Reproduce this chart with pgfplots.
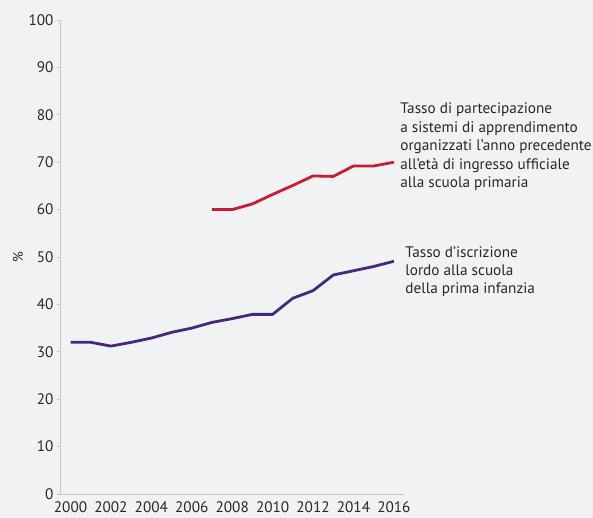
\documentclass[border=0pt]{standalone}
\usepackage{fontspec}
\setmainfont{PT Sans}
\usepackage{pgfplots}
\pgfplotsset{compat=1.18}
\usetikzlibrary{backgrounds}

\definecolor{bgcol}{RGB}{241,242,244}
\definecolor{axcol}{RGB}{200,200,202}
\definecolor{redline}{RGB}{200,28,52}
\definecolor{purpline}{RGB}{70,40,125}
\definecolor{txt}{RGB}{40,40,40}

\begin{document}
\begin{tikzpicture}[x=1bp,y=1bp]
\begin{axis}[
    scale only axis,
    width=344bp, height=474bp,
    xmin=1999.48, xmax=2016.5,
    ymin=0, ymax=100,
    axis lines*=left,
    axis line style={axcol, line width=0.8bp},
    xtick={2000,2002,...,2016},
    ytick={0,10,...,100},
    x tick style={draw=none},
    y tick style={axcol, line width=0.8bp},
    tick align=outside,
    major tick length=3bp,
    xticklabel style={/pgf/number format/1000 sep={}, yshift=-1bp},
    /pgf/number format/assume math mode=true,
    tick label style={font=\fontsize{15.3}{17}\selectfont, text=txt},
    ylabel={\%},
    ylabel style={at={(rel axis cs:0,0.5)}, anchor=center, yshift=42bp,
                  font=\fontsize{14}{16}\selectfont, text=txt},
    clip=false,
]
\addplot[redline, line width=2.8bp, line join=round] coordinates {
    (2007,60.0) (2008,60.0) (2009,61.2) (2010,63.2) (2011,65.1)
    (2012,67.1) (2013,67.0) (2014,69.2) (2015,69.2) (2016,70.0)};
\addplot[purpline, line width=2.8bp, line join=round] coordinates {
    (2000,32.0) (2001,32.0) (2002,31.2) (2003,32.0) (2004,32.9)
    (2005,34.1) (2006,35.0) (2007,36.2) (2008,37.0) (2009,37.9)
    (2010,37.9) (2011,41.3) (2012,42.9) (2013,46.2) (2014,47.1)
    (2015,48.0) (2016,49.1)};
\node[anchor=north west, align=left, inner sep=0pt, text=txt,
      font=\fontsize{15.3}{18.5}\selectfont]
    at (axis cs:2016.31,82.5)
    {Tasso di partecipazione\\a sistemi di apprendimento\\organizzati l’anno precedente\\all’età di ingresso ufficiale\\alla scuola primaria};
\node[anchor=north west, align=left, inner sep=0pt, text=txt,
      font=\fontsize{15.3}{18.5}\selectfont]
    at (axis cs:2016.56,52.3)
    {Tasso d’iscrizione\\lordo alla scuola\\della prima infanzia};
\end{axis}
\begin{scope}[on background layer]
\fill[bgcol] (current axis.south west) ++(-60bp,-24bp) rectangle ++(593bp,518bp);
\end{scope}
\end{tikzpicture}
\end{document}
